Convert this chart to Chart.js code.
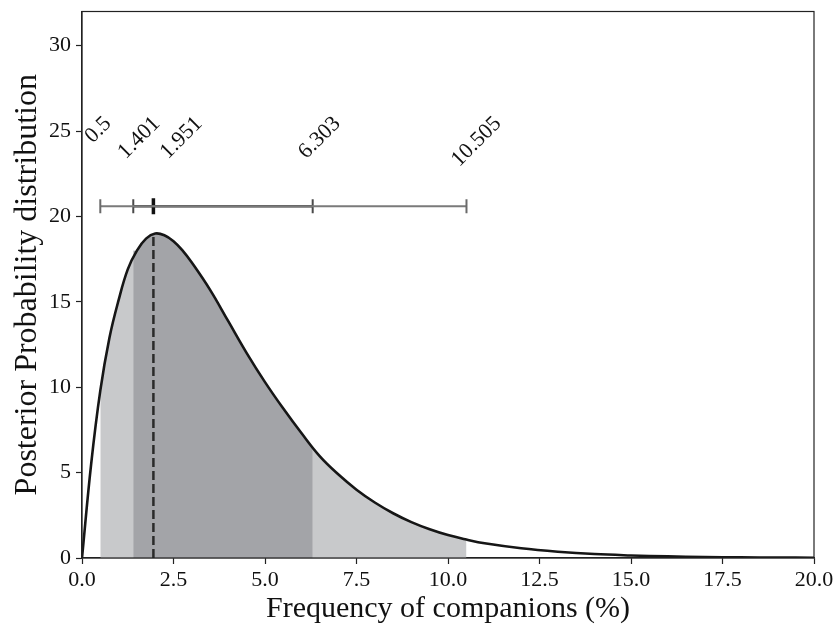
<!DOCTYPE html>
<html>
<head>
<meta charset="utf-8">
<script src="https://cdn.jsdelivr.net/npm/chart.js@4"></script>
<style>
  html, body { margin: 0; padding: 0; background: #fff; }
  #wrap { width: 838px; height: 631px; }
</style>
</head>
<body>
<div id="wrap"><canvas id="posterior"></canvas></div>
<script>
// posterior curve, read at these frequencies (%)
const freqX = [0, 0.25, 0.5, 0.75, 1.0, 1.25, 1.5, 1.75, 2.0, 2.25, 2.5, 2.75, 3.0, 3.5, 4.0, 4.5,
    5.0, 5.5, 6.0, 6.5, 7.0, 7.5, 8.0, 8.5, 9.0, 9.5, 10.0, 10.5, 11.0, 12.0, 13.0, 14.0, 15.0,
    16.0, 17.0, 18.0, 19.0, 20.0];
const posteriorY = [0, 5.5, 9.8, 12.9, 15.1, 16.9, 18.0, 18.7, 19.0, 18.9, 18.55, 18.0, 17.3, 15.7, 13.85, 12.0,
    10.3, 8.75, 7.3, 5.95, 4.9, 4.0, 3.25, 2.62, 2.1, 1.68, 1.34, 1.08, 0.86, 0.57, 0.37, 0.23, 0.15,
    0.095, 0.06, 0.038, 0.024, 0.015];

// credible interval edges and the mode
const ciValues = [0.5, 1.401, 1.951, 6.303, 10.505];
const ciLabels = ['0.5', '1.401', '1.951', '6.303', '10.505'];
const ciHeights = [9.8, 18.0, 19.0, 6.4, 1.08]; // curve height at each edge
const barLevel = 20.6;
const labelTop = 25.8;

const xTicks = [0, 2.5, 5.0, 7.5, 10.0, 12.5, 15.0, 17.5, 20.0];
const yTicks = [0, 5, 10, 15, 20, 25, 30];

// pixel nudges so the slanted labels don't collide
const labelNudge = [-2, 6, 28, 7, 10];

const serif = "'Liberation Serif', 'DejaVu Serif', serif";

function curvePoints() {
    return freqX.map((x, i) => ({ x: x, y: posteriorY[i] }));
}

function bandPoints(lo, hi) {
    const pts = [{ x: ciValues[lo], y: ciHeights[lo] }];
    freqX.forEach((x, i) => {
        if (x > ciValues[lo] && x < ciValues[hi]) pts.push({ x: x, y: posteriorY[i] });
    });
    pts.push({ x: ciValues[hi], y: ciHeights[hi] });
    return pts;
}

function barLine(a, b) {
    return [{ x: ciValues[a], y: barLevel }, { x: ciValues[b], y: barLevel }];
}

// top/right spines
const frame = {
    id: 'frame',
    afterDatasetsDraw(chart) {
        const { ctx, chartArea: a } = chart;
        ctx.save();
        ctx.strokeStyle = '#222';
        ctx.lineWidth = 1.2;
        ctx.strokeRect(a.left, a.top, a.right - a.left, a.bottom - a.top);
        ctx.restore();
    }
};

// rotated interval labels
const ciText = {
    id: 'ciText',
    afterDatasetsDraw(chart) {
        const { ctx, scales } = chart;
        ctx.save();
        ctx.font = '22px ' + serif;
        ctx.fillStyle = '#111';
        ctx.textAlign = 'center';
        ctx.textBaseline = 'middle';
        const top = scales.y.getPixelForValue(labelTop);
        ciLabels.forEach((t, i) => {
            const m = ctx.measureText(t);
            const h = m.actualBoundingBoxAscent;
            const box = (m.width + h) * Math.SQRT1_2;
            const cx = scales.x.getPixelForValue(ciValues[i]) + labelNudge[i];
            ctx.save();
            ctx.translate(cx, top + box / 2);
            ctx.rotate(-Math.PI / 4);
            ctx.fillText(t, 0, 0);
            ctx.restore();
        });
        ctx.restore();
    }
};

const capStyle = {
    pointStyle: 'line', rotation: 90, pointRadius: 7, pointHoverRadius: 7
};

new Chart(document.getElementById('posterior'), {
    type: 'scatter',
    data: {
        datasets: [{
            data: curvePoints(),
            showLine: true,
            borderColor: '#161616',
            borderWidth: 2.6,
            pointRadius: 0,
            tension: 0.4,
            order: 0
        }, {
            data: [{ x: ciValues[2], y: 0 }, { x: ciValues[2], y: ciHeights[2] }],
            showLine: true,
            borderColor: '#2a2a2a',
            borderWidth: 2.5,
            borderDash: [9, 4],
            pointRadius: 0,
            order: 1
        }, {
            data: bandPoints(1, 3),
            showLine: true,
            borderWidth: 0,
            borderColor: 'rgba(0,0,0,0)',
            backgroundColor: '#a3a4a8',
            fill: 'origin',
            pointRadius: 0,
            tension: 0.4,
            order: 2
        }, {
            data: bandPoints(0, 4),
            showLine: true,
            borderWidth: 0,
            borderColor: 'rgba(0,0,0,0)',
            backgroundColor: '#c8c9cb',
            fill: 'origin',
            pointRadius: 0,
            tension: 0.4,
            order: 3
        }, {
            data: barLine(0, 4),
            showLine: true,
            borderColor: '#7a7a7a',
            borderWidth: 2,
            pointBorderColor: '#6a6a6a',
            pointBorderWidth: 2,
            ...capStyle,
            order: 0
        }, {
            data: barLine(1, 3),
            showLine: true,
            borderColor: '#3a3a3a',
            borderWidth: 2.6,
            pointBorderColor: '#4a4a4a',
            pointBorderWidth: 2,
            ...capStyle,
            order: 0
        }, {
            data: [{ x: ciValues[2], y: barLevel }],
            pointStyle: 'line', rotation: 90,
            pointRadius: 8,
            pointBorderColor: '#111',
            pointBorderWidth: 3.5,
            order: 0
        }]
    },
    options: {
        responsive: true,
        maintainAspectRatio: false,
        animation: false,
        events: [],
        layout: { padding: { top: 8, right: 24, left: 0, bottom: 0 } },
        plugins: {
            legend: { display: false },
            tooltip: { enabled: false }
        },
        scales: {
            x: {
                type: 'linear',
                min: 0, max: 20,
                afterBuildTicks: s => { s.ticks = xTicks.map(v => ({ value: v })); },
                afterFit: s => { s.height = 73; },
                border: { color: '#222', width: 1.2 },
                grid: { drawOnChartArea: false, tickLength: 6, color: '#222', tickWidth: 1.2 },
                ticks: {
                    color: '#111', padding: 3,
                    font: { family: serif, size: 22 },
                    callback: v => v.toFixed(1)
                },
                title: {
                    display: true, text: 'Frequency of companions (%)',
                    color: '#111', padding: { top: 0, bottom: 4 },
                    font: { family: serif, size: 30 }
                }
            },
            y: {
                min: 0, max: 32,
                afterBuildTicks: s => { s.ticks = yTicks.map(v => ({ value: v })); },
                afterFit: s => { s.width = 82; s.paddingTop = 0; s.paddingBottom = 0; },
                border: { color: '#222', width: 1.2 },
                grid: { drawOnChartArea: false, tickLength: 6, color: '#222', tickWidth: 1.2 },
                ticks: {
                    color: '#111', padding: 5,
                    font: { family: serif, size: 22 }
                },
                title: {
                    display: true, text: 'Posterior Probability distribution',
                    color: '#111', padding: { top: 8, bottom: 4 },
                    font: { family: serif, size: 32 }
                }
            }
        }
    },
    plugins: [frame, ciText]
});
</script>
</body>
</html>
